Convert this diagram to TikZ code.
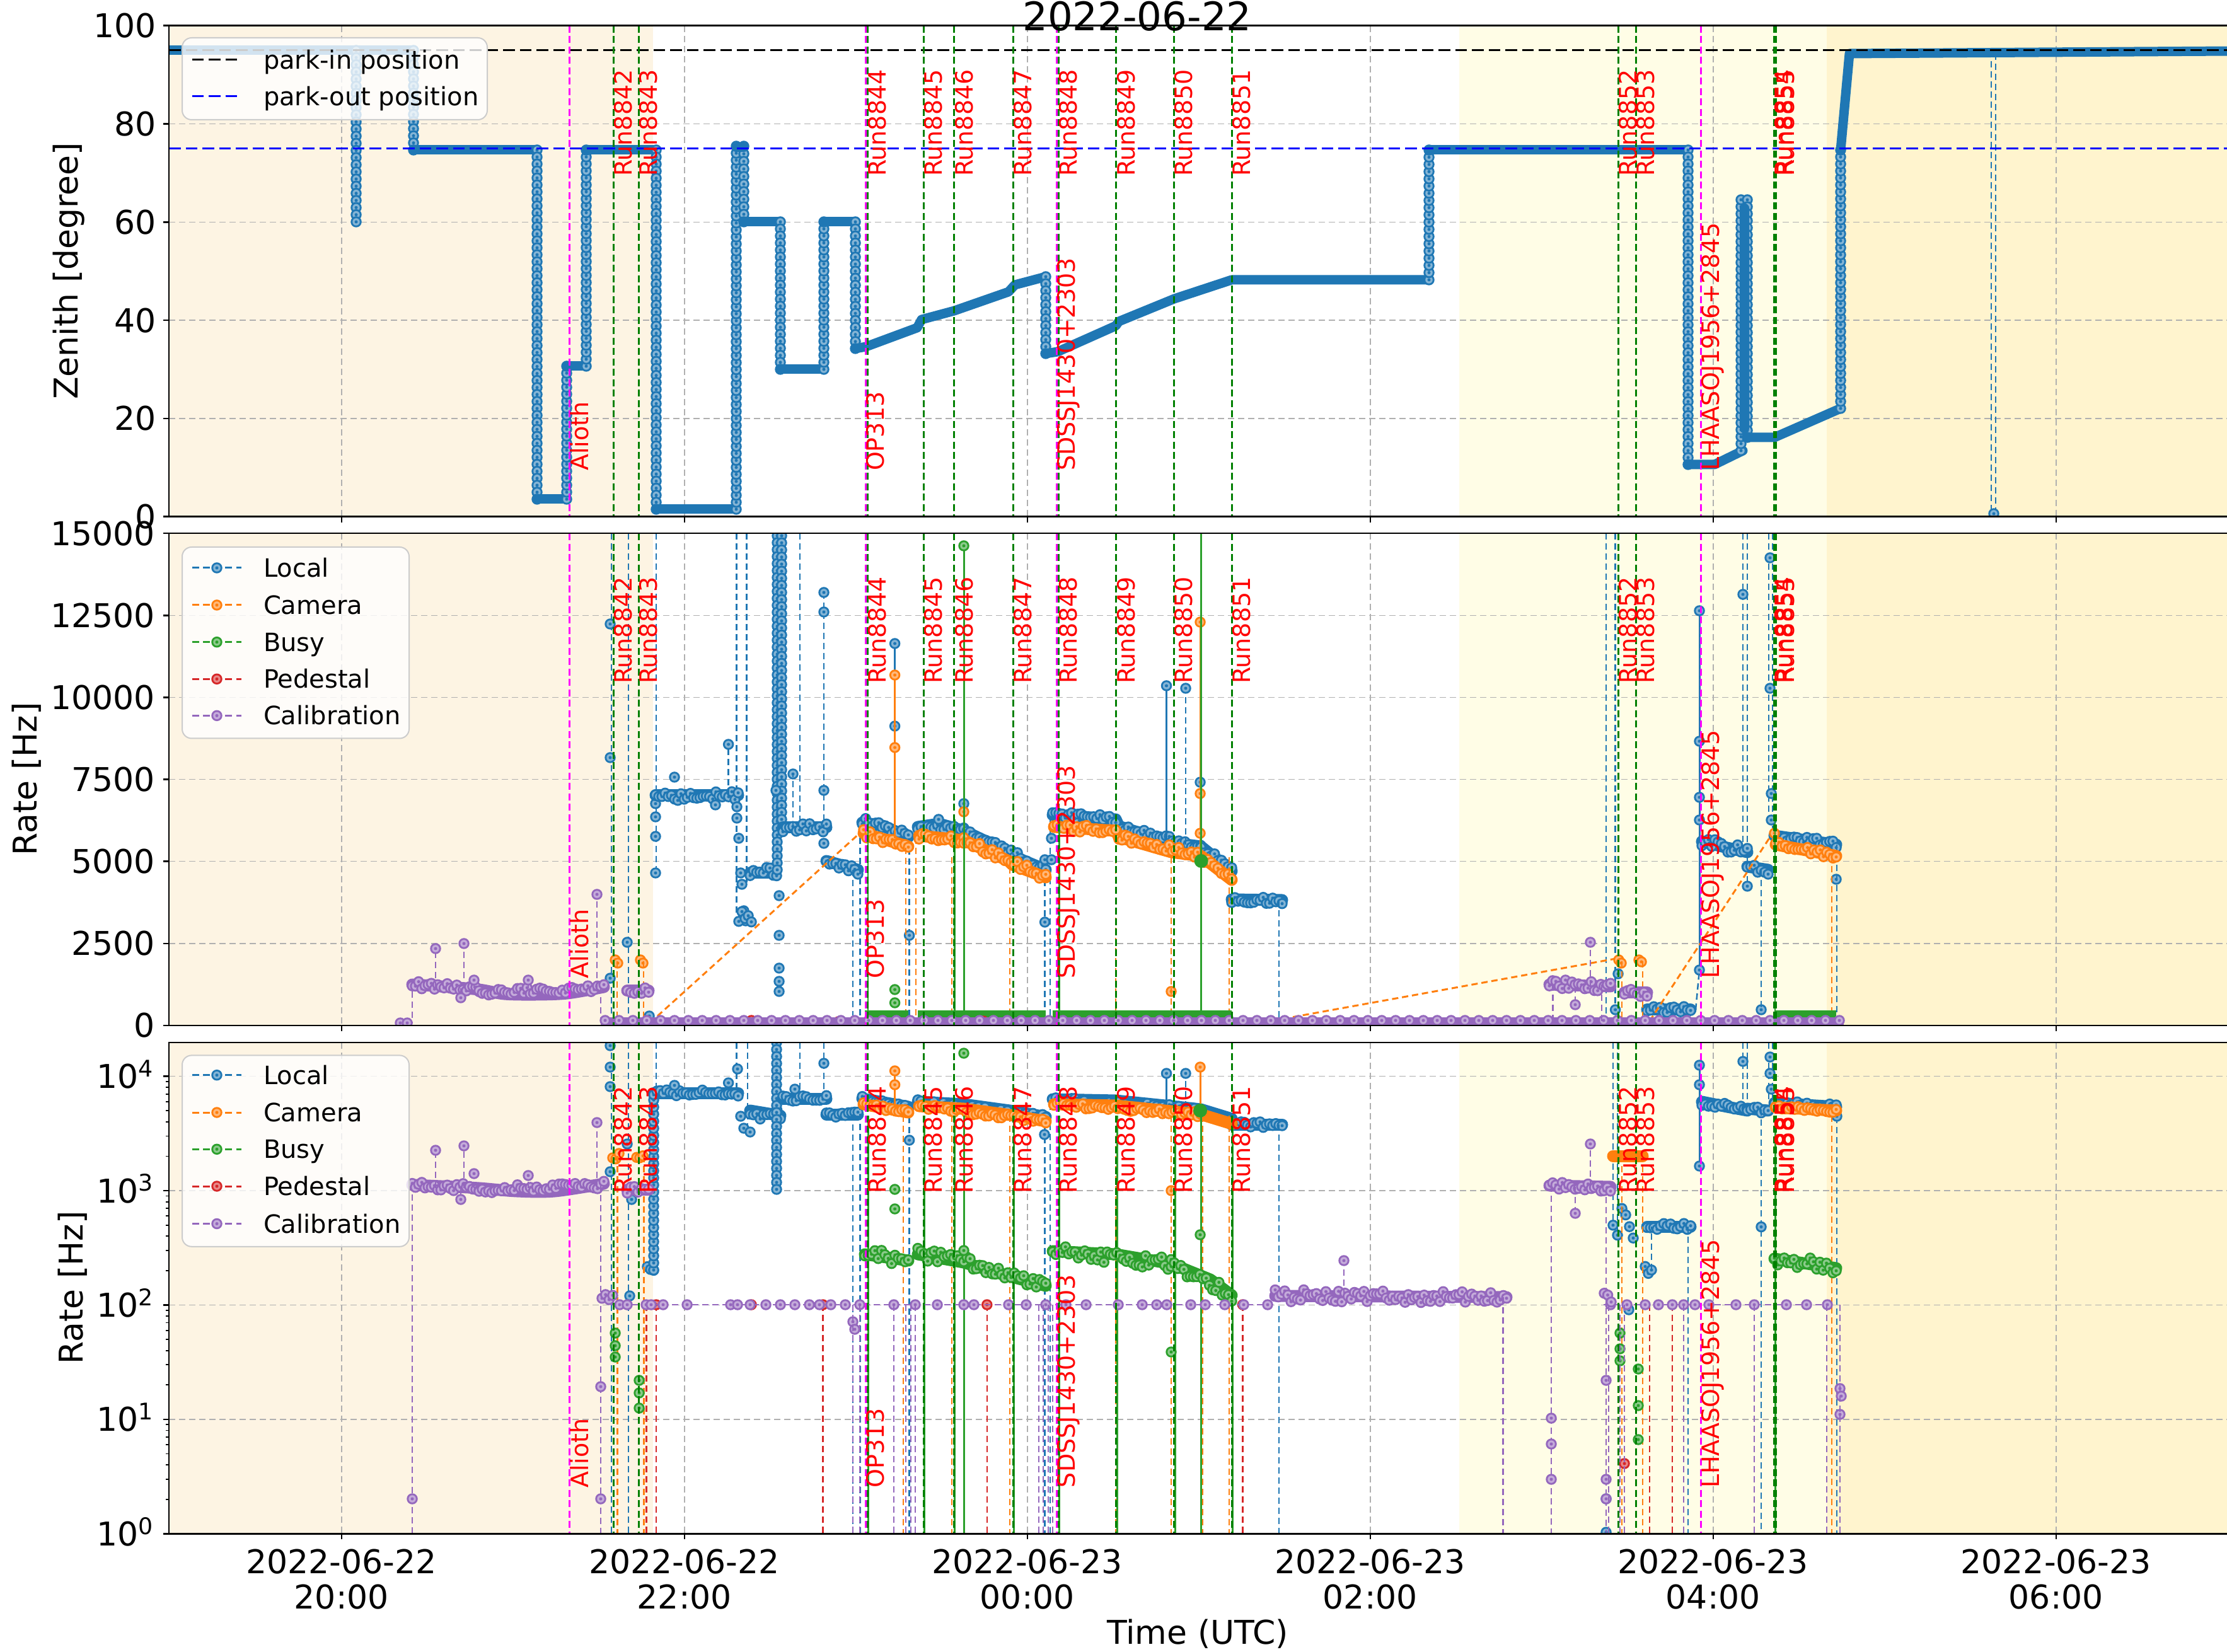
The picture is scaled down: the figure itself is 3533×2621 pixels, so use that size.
\documentclass[tikz,border=0pt]{standalone}
\usepackage{fontspec}
\setmainfont{DejaVu Sans}
\definecolor{cA}{HTML}{1F77B4}
\definecolor{cB}{HTML}{FF7F0E}
\definecolor{cC}{HTML}{2CA02C}
\definecolor{cD}{HTML}{D62728}
\definecolor{cE}{HTML}{9467BD}
\definecolor{rungreen}{HTML}{008000}
\definecolor{tgtmag}{HTML}{FF00FF}
\definecolor{gridgray}{HTML}{B0B0B0}
\definecolor{shA}{HTML}{FDF4E3}
\definecolor{shB}{HTML}{FFFDE6}
\definecolor{shC}{HTML}{FFF4CE}
\definecolor{legedge}{HTML}{CCCCCC}
\definecolor{parkblue}{HTML}{0000FF}
\newcommand{\tkfont}{\fontsize{10.4pt}{12pt}\selectfont}
\newcommand{\lgfont}{\fontsize{8pt}{9.6pt}\selectfont}
\newcommand{\lbfont}{\fontsize{7.6pt}{9pt}\selectfont}
\newcommand{\ttlfont}{\fontsize{12.5pt}{15pt}\selectfont}
\tikzset{
 spine/.style={black, line width=0.5pt},
 gridl/.style={draw=gridgray, line width=0.3pt, dash pattern=on 2pt off 1.2pt},
 runl/.style={draw=rungreen, line width=0.6pt, dash pattern=on 2.2pt off 1.1pt},
 tgtl/.style={draw=tgtmag, line width=0.6pt, dash pattern=on 2.2pt off 1.1pt},
 dd/.style={line width=0.5pt, dash pattern=on 2pt off 1.2pt},
 band/.style={line width=3pt, line cap=round, line join=round},
 rband/.style={line width=3.8pt, line cap=round, line join=round},
 lbl/.style={text=red, font=\lbfont, rotate=90, anchor=north west, inner sep=0pt},
 tlab/.style={font=\tkfont, inner sep=0pt},
 llab/.style={font=\lgfont, anchor=base west, inner sep=0pt},
}
\newcommand{\mk}[3]{\fill[#1] (#2,#3) circle[radius=1.75pt];\fill[white,opacity=0.45] (#2,#3) circle[radius=1.15pt];\fill[#1] (#2,#3) circle[radius=0.5pt];}
\newcommand{\mks}[2]{\foreach \pa/\pb in {#2}{\mk{#1}{\pa}{\pb}}}
\newcommand{\mchain}[4]{\draw[#1,dd] (#2,#3) -- (#2,#4);\pgfmathtruncatemacro{\nn}{max(1,abs((#4)-(#3))/11)}\pgfmathsetmacro{\st}{((#4)-(#3))/\nn}\foreach \ii in {0,...,\nn}{\pgfmathsetmacro{\yy}{#3+\st*\ii}\mk{#1}{#2}{\yy}}}
\newcommand{\noisy}[6]{\pgfmathtruncatemacro{\nn}{max(1,((#4)-(#2))/5)}\pgfmathsetmacro{\stx}{((#4)-(#2))/\nn}\pgfmathsetmacro{\sty}{((#5)-(#3))/\nn}\foreach \ii in {0,...,\nn}{\pgfmathsetmacro{\xx}{#2+\stx*\ii}\pgfmathsetmacro{\yy}{#3+\sty*\ii+#6*rand}\mk{#1}{\xx}{\yy}}}
\begin{document}
\begin{tikzpicture}[x=0.2pt,y=-0.2pt]
\useasboundingbox (0,0) rectangle (3533,2621);
\clip (0,0) rectangle (3533,2621);
\pgfmathsetseed{7}
% ---------- backgrounds and grids
\foreach \yt/\yb in {40.7/819.7, 846.2/1627, 1654/2433.3} {
  \fill[shA] (268,\yt) rectangle (1036,\yb);
  \fill[shB] (2315,\yt) rectangle (2898,\yb);
  \fill[shC] (2898,\yt) rectangle (3540,\yb);
  \foreach \gx in {541.8,1085.8,1629.8,2173.8,2717.8,3261.8} \draw[gridl] (\gx,\yt) -- (\gx,\yb);
}
\foreach \gy in {196.5,352.3,508.1,663.9, 976.3,1106.5,1236.6,1366.7,1496.9, 1707.7,1889.1,2070.5,2251.9} \draw[gridl] (268,\gy) -- (3540,\gy);

% ---------- TOP PANEL DATA
\begin{scope}
\clip (268,40.7) rectangle (3533,819.7);
\draw[cA,band] (262,80) -- (656,80);
\mchain{cA}{565}{80}{352}
\mchain{cA}{656}{80}{238}
\draw[cA,band] (656,238) -- (852,238);
\mchain{cA}{852}{238}{792}
\draw[cA,band] (852,792) -- (899,792);
\mchain{cA}{899}{792}{581}
\draw[cA,band] (899,581) -- (930,581);
\mchain{cA}{930}{581}{238}
\draw[cA,band] (930,238) -- (1041,238);
\mchain{cA}{1041}{238}{808}
\draw[cA,band] (1041,808) -- (1168,808);
\mchain{cA}{1168}{808}{232}
\mchain{cA}{1180}{232}{352}
\draw[cA,band] (1168,234) -- (1180,234);
\draw[cA,band] (1180,352) -- (1238,352);
\mchain{cA}{1238}{352}{586}
\draw[cA,band] (1238,586) -- (1307,586);
\mchain{cA}{1307}{586}{352}
\draw[cA,band] (1307,352) -- (1357,352);
\mchain{cA}{1357}{352}{553}
\draw[cA,band] (1357,553) -- (1374,550) -- (1455,520) -- (1462,507) -- (1514,493) -- (1600,463) -- (1610,452) -- (1659,439);
\mchain{cA}{1659}{439}{561}
\draw[cA,band] (1659,561) -- (1678,558) -- (1770,517) -- (1775,510) -- (1863,474) -- (1954,444) -- (2267,444);
\mchain{cA}{2267}{444}{238}
\draw[cA,band] (2267,238) -- (2678,238);
\mchain{cA}{2678}{238}{737}
\draw[cA,band] (2678,737) -- (2720,737) -- (2765,715);
\mchain{cA}{2762}{715}{317}
\mchain{cA}{2772}{317}{694}
\draw[cA,band] (2767,330) -- (2767,680);
\draw[cA,band] (2772,694) -- (2815,694) -- (2920,648);
\mchain{cA}{2920}{648}{238}
\draw[cA,band] (2920,238) -- (2934,85) -- (3540,81);
\draw[cA,dd] (3159,81) -- (3159,815);
\draw[cA,dd] (3166,815) -- (3166,81);
\mk{cA}{3163}{815}
\end{scope}
\draw[black, line width=0.6pt, dash pattern=on 3.7pt off 1.6pt] (268,80) -- (3540,80);
\draw[parkblue, line width=0.6pt, dash pattern=on 3.7pt off 1.6pt] (268,235.3) -- (3540,235.3);

% ---------- MIDDLE PANEL DATA
\begin{scope}
\clip (268,846.2) rectangle (3533,1627);
% Local
\foreach \vx/\ve in {970/1627, 997/1627, 1041/1385, 1168.6/1460, 1184.7/1400, 1269/1313, 2548/1627, 2562.6/1602, 2765/1340, 2772/1406, 2806/1301, 2812/1330} {\draw[cA,dd] (\vx,846) -- (\vx,\ve);}
\mks{cA}{968/990, 968/1202, 968/1552, 995/1495, 1030/1612, 1040/1385, 1040/1327, 1040/1296, 1040/1275}
\draw[cA,rband] (1040,1262) -- (1171,1262);
\noisy{cA}{1040}{1262}{1171}{1262}{8}
\mks{cA}{1070/1233, 1135/1277, 1155.6/1181}
\draw[cA,dd] (1155.6,1262) -- (1155.6,1181);
\mks{cA}{1169/1280, 1169/1298, 1172/1330, 1175/1385, 1177/1403, 1180/1445, 1183/1461}
\noisy{cA}{1172}{1452}{1192}{1452}{12}
\draw[cA,rband] (1190,1385) -- (1230,1385);
\noisy{cA}{1190}{1385}{1232}{1385}{12}
\mchain{cA}{1233}{850}{1380}
\mchain{cA}{1240}{850}{1300}
\mks{cA}{1236/1421, 1236/1484, 1236/1536, 1236/1557, 1236/1573}
\draw[cA,rband] (1242,1313) -- (1311,1313);
\noisy{cA}{1242}{1313}{1311}{1313}{7}
\mks{cA}{1258/1228, 1231/1254}
\draw[cA,dd] (1258,1313) -- (1258,1228);
\draw[cA,dd] (1307,940) -- (1307,1313);
\mks{cA}{1307/940,1307/971,1307/1254,1307/1338}
\draw[cA,rband] (1311,1366) -- (1361,1380);
\noisy{cA}{1311}{1366}{1361}{1380}{7}
\draw[cA,dd] (1353,1380) -- (1353,1627);
\draw[cA,dd] (1364.5,1627) -- (1364.5,1303);
\draw[cA,rband] (1368,1305) -- (1400,1310) -- (1441,1328);
\noisy{cA}{1368}{1303}{1441}{1326}{6}
\draw[cA,line width=0.6pt] (1419.6,1310) -- (1419.6,1021);
\mks{cA}{1419.6/1021,1419.6/1152}
\draw[cA,dd] (1442.6,1330) -- (1442.6,1627);
\mk{cA}{1442.6}{1484}
\draw[cA,rband] (1456,1312) -- (1490,1307) -- (1529,1318) -- (1600,1352) -- (1606,1358) -- (1659,1380);
\noisy{cA}{1456}{1310}{1529}{1318}{6}
\noisy{cA}{1529}{1318}{1659}{1380}{6}
\mks{cA}{1529/1275, 1489/1300}
\draw[cA,dd] (1657.6,1380) -- (1657.6,1627);
\mks{cA}{1657.6/1364, 1657.6/1463}
\draw[cA,dd] (1666,1627) -- (1666,1300);
\mks{cA}{1668/1364, 1668/1330}
\draw[cA,rband] (1670,1293) -- (1718,1296) -- (1770,1300) -- (1775,1311) -- (1858,1337) -- (1905,1343) -- (1954,1382);
\noisy{cA}{1670}{1293}{1770}{1300}{6}
\noisy{cA}{1775}{1311}{1905}{1343}{6}
\noisy{cA}{1905}{1343}{1954}{1382}{6}
\draw[cA,line width=0.6pt] (1850.5,1335) -- (1850.5,1088);
\mk{cA}{1850.5}{1088}
\draw[cA,dd] (1881,1340) -- (1881,1092);
\mk{cA}{1881}{1092}
\mk{cA}{1904}{1241}
\draw[cA,rband] (1954,1427) -- (2034,1428);
\noisy{cA}{1954}{1427}{2034}{1428}{6}
\draw[cA,dd] (2029,1428) -- (2029,1627);
\draw[cA,rband] (2613,1602) -- (2682,1602);
\noisy{cA}{2613}{1602}{2682}{1602}{5}
\draw[cA,dd] (2690,1602) -- (2696,1539);
\draw[cA,line width=0.6pt] (2696,1539) -- (2696,969);
\mks{cA}{2696/969, 2696/1176, 2696/1265, 2696/1301, 2696/1539}
\draw[cA,rband] (2700,1335) -- (2740,1345) -- (2772,1352);
\noisy{cA}{2700}{1335}{2772}{1352}{8}
\mk{cA}{2765}{943}
\draw[cA,rband] (2772,1375) -- (2805,1380);
\noisy{cA}{2772}{1375}{2805}{1380}{7}
\mks{cA}{2772/1406, 2794/1602}
\draw[cA,dd] (2794,1380) -- (2794,1602);
\mks{cA}{2808/885, 2808/1092, 2810/1259, 2810/1301, 2562.6/1602, 2567/1545}
\draw[cA,rband] (2815,1326) -- (2913,1340);
\noisy{cA}{2815}{1325}{2913}{1340}{6}
\mk{cA}{2913}{1395}
\draw[cA,dd] (2914,1340) -- (2914,1627);
% Camera
\draw[cB,dd,line width=0.6pt] (1043,1612) -- (1366,1320);
\draw[cB,dd,line width=0.6pt] (1988,1625) -- (2563,1521);
\draw[cB,dd,line width=0.6pt] (2617,1620) -- (2812,1322);
\mks{cB}{976/1523, 980/1528, 1016/1523, 1020/1528, 2568/1523, 2572/1528, 2600/1523, 2604/1526}
\foreach \vx in {979,1021,2573,2606} \draw[cB,dd] (\vx,1525) -- (\vx,1627);
\draw[cB,rband] (1370,1322) -- (1441,1343);
\noisy{cB}{1370}{1322}{1441}{1343}{6}
\draw[cB,line width=0.6pt] (1419.6,1330) -- (1419.6,1071);
\mks{cB}{1419.6/1071,1419.6/1186}
\draw[cB,dd] (1437,1345) -- (1437,1627);
\draw[cB,dd] (1453,1627) -- (1453,1322);
\draw[cB,rband] (1458,1326) -- (1529,1333) -- (1600,1366) -- (1606,1372) -- (1659,1392);
\noisy{cB}{1458}{1326}{1529}{1333}{6}
\noisy{cB}{1529}{1333}{1659}{1392}{6}
\mk{cB}{1529}{1288}
\draw[cB,rband] (1672,1312) -- (1770,1318) -- (1775,1328) -- (1858,1352) -- (1905,1358) -- (1954,1396);
\noisy{cB}{1672}{1312}{1770}{1318}{6}
\noisy{cB}{1775}{1328}{1905}{1358}{6}
\noisy{cB}{1905}{1358}{1954}{1396}{6}
\draw[cB,line width=0.6pt] (1904,1360) -- (1904,987);
\mks{cB}{1904/987, 1904/1259, 1904/1322, 1858/1573, 2815/1322}
\foreach \vx in {1510,1602,1770,1858,1950} \draw[cB,dd] (\vx,1360) -- (\vx,1627);
\draw[cB,rband] (2817,1340) -- (2913,1358);
\noisy{cB}{2817}{1340}{2913}{1358}{6}
\draw[cB,dd] (2906,1358) -- (2906,1627);
% Busy
\foreach \xa/\xb in {1372/1441, 1456/1659, 1670/1954, 2815/2913} {\draw[cC,line width=2.4pt] (\xa,1609) -- (\xb,1609);}
\draw[cC,line width=0.6pt] (1529,1627) -- (1529,866);
\mk{cC}{1529}{866}
\draw[cC,line width=0.6pt] (1905.6,1627) -- (1905.6,846);
\fill[cC] (1905.6,1366) circle[radius=2.2pt];
\mks{cC}{1419.6/1570,1419.6/1591}
\foreach \vx in {1377,1514.5,1680.5,2816} \draw[cC,line width=0.5pt] (\vx,1300) -- (\vx,1627);
% Pedestal
\mks{cD}{1192/1619,1330/1621,1560/1620,1973/1621,2612/1621}
% Calibration
\draw[cE,dd] (630,1623) -- (654,1623) -- (654,1565);
\mks{cE}{635/1623,646/1623}
\draw[cE,rband] plot[smooth] coordinates {(654,1562) (700,1565) (760,1570) (800,1577) (850,1578) (900,1576) (958,1566)};
\noisy{cE}{654}{1562}{760}{1570}{6}
\noisy{cE}{760}{1575}{958}{1568}{6}
\foreach \pa/\pb in {691/1505,736/1497,752/1555,838/1555,731/1583,947/1419}{\draw[cE,dd] (\pa,1568) -- (\pa,\pb); \mk{cE}{\pa}{\pb}}
\draw[cE,dd] (953,1566) -- (953,1621);
\draw[cE,line width=2.6pt] (953,1621) -- (2925,1621);
\foreach \xx in {960,982,...,2920}{\mk{cE}{\xx}{1619}}
\draw[cE,rband] (995,1572) -- (1029,1572);
\noisy{cE}{995}{1572}{1029}{1572}{6}
\draw[cE,rband] (2458,1562) -- (2555,1565);
\noisy{cE}{2458}{1560}{2555}{1566}{8}
\draw[cE,dd] (2523,1565) -- (2523,1495); \mk{cE}{2523}{1495}
\draw[cE,dd] (2499,1565) -- (2499,1594); \mk{cE}{2499}{1594}
\draw[cE,dd] (2463.6,1562) -- (2463.6,1621);
\draw[cE,dd] (2541,1562) -- (2541,1621);
\draw[cE,rband] (2577,1575) -- (2613,1575);
\noisy{cE}{2577}{1575}{2613}{1575}{6}
\end{scope}

% ---------- BOTTOM PANEL DATA
\begin{scope}
\clip (268,1654) rectangle (3533,2433.3);
% Local
\foreach \vx/\ve in {970/2433, 997/2433, 1041/2015, 1168.6/1734, 1186/1796, 1269/1743, 1307/1743, 2559/1940, 2566/1965, 2765/1750, 2772/1762, 2806/1750, 2812/1750} {\draw[cA,dd] (\vx,1654) -- (\vx,\ve);}
\mks{cA}{968/1659, 968/1693, 968/1724, 968/1859, 995/1815, 1002/1903, 999/2056}
\noisy{cA}{1027}{2012}{1037}{2018}{6}
\mchain{cA}{1037}{2015}{1734}
\draw[cA,rband] (1037,1734) -- (1171,1734);
\noisy{cA}{1037}{1734}{1171}{1734}{5}
\mks{cA}{1070/1722, 1155.6/1718, 1170/1696, 1175/1771, 1180/1790, 1190/1796}
\draw[cA,rband] (1190,1762) -- (1238,1770);
\noisy{cA}{1190}{1762}{1238}{1770}{12}
\mchain{cA}{1232}{1654}{1887}
\draw[cA,rband] (1242,1743) -- (1311,1743);
\noisy{cA}{1242}{1743}{1311}{1743}{5}
\mks{cA}{1261/1728, 1307/1687}
\draw[cA,rband] (1311,1768) -- (1361,1768);
\noisy{cA}{1311}{1768}{1361}{1768}{5}
\draw[cA,dd] (1353,1768) -- (1353,2433);
\draw[cA,dd] (1364.5,2433) -- (1364.5,1743);
\draw[cA,rband] (1368,1743) -- (1441,1756);
\noisy{cA}{1368}{1743}{1441}{1756}{4}
\draw[cA,dd] (1442.6,1756) -- (1442.6,2433);
\mk{cA}{1442.6}{1809}
\draw[cA,rband] (1456,1748) -- (1529,1752) -- (1602,1762) -- (1659,1772);
\noisy{cA}{1456}{1748}{1659}{1772}{4}
\draw[cA,dd] (1657.6,1772) -- (1657.6,2433);
\mk{cA}{1657}{1800}
\draw[cA,dd] (1666,2433) -- (1666,1744);
\draw[cA,rband] (1670,1744) -- (1770,1746) -- (1858,1755) -- (1905,1760) -- (1954,1775);
\noisy{cA}{1670}{1744}{1905}{1760}{4}
\draw[cA,rband] (1954,1784) -- (2034,1784);
\noisy{cA}{1954}{1784}{2034}{1784}{5}
\draw[cA,line width=0.6pt] (1850.5,1755) -- (1850.5,1703);
\mk{cA}{1850.5}{1703}
\draw[cA,dd] (1881,1757) -- (1881,1703);
\mk{cA}{1881}{1703}
\draw[cA,dd] (2029,1784) -- (2029,2433);
\mks{cA}{2548/2378, 2548/2431, 2584/2078}
\noisy{cA}{2559}{1940}{2566}{1965}{6}
\noisy{cA}{2573}{1925}{2591}{1955}{12}
\noisy{cA}{2610}{2012}{2620}{2018}{6}
\draw[cA,rband] (2613,1946) -- (2682,1946);
\noisy{cA}{2613}{1946}{2682}{1946}{5}
\draw[cA,dd] (2620,2015) -- (2620,1946);
\draw[cA,dd] (2678,1946) -- (2678,2433);
\draw[cA,line width=0.6pt] (2696,1850) -- (2696,1690);
\mks{cA}{2696/1850, 2696/1690, 2696/1721}
\draw[cA,rband] (2700,1748) -- (2740,1756) -- (2772,1762);
\noisy{cA}{2700}{1748}{2772}{1762}{6}
\mk{cA}{2765}{1684}
\draw[cA,rband] (2772,1759) -- (2805,1762);
\noisy{cA}{2772}{1759}{2805}{1762}{5}
\draw[cA,dd] (2794,1760) -- (2794,2433);
\mks{cA}{2794/1946.5, 2808/1677, 2808/1703, 2810/1728}
\draw[cA,rband] (2815,1750) -- (2913,1756);
\noisy{cA}{2815}{1750}{2913}{1756}{4}
\draw[cA,dd] (2914,1756) -- (2914,2433);
\mk{cA}{2914}{1771}
% Camera
\noisy{cB}{972}{1834}{982}{1834}{5}
\noisy{cB}{1010}{1834}{1020}{1834}{5}
\draw[cB,dd] (979.6,1834) -- (979.6,2433);
\draw[cB,dd] (1021.7,1834) -- (1021.7,2433);
\draw[cB,rband] (1370,1752) -- (1441,1765);
\noisy{cB}{1370}{1752}{1441}{1765}{4}
\draw[cB,line width=0.6pt] (1419.6,1755) -- (1419.6,1699);
\mks{cB}{1419.6/1699,1419.6/1721}
\draw[cB,rband] (1458,1755) -- (1529,1759) -- (1602,1769) -- (1659,1779);
\noisy{cB}{1458}{1755}{1659}{1779}{4}
\draw[cB,rband] (1672,1752) -- (1770,1754) -- (1858,1763) -- (1905,1768) -- (1954,1783);
\noisy{cB}{1672}{1752}{1905}{1768}{4}
\draw[cB,line width=0.6pt] (1904,1768) -- (1904,1693);
\mks{cB}{1904/1693, 1858/1889}
\foreach \vx in {1433,1510,1602,1770,1858,1908,1950,2906} \draw[cB,dd] (\vx,1770) -- (\vx,2433);
\draw[cB,rband] (2559,1834) -- (2606,1834);
\foreach \vx in {2573,2606} \draw[cB,dd] (\vx,1834) -- (\vx,2433);
\draw[cB,rband] (2817,1757) -- (2913,1762);
\noisy{cB}{2817}{1757}{2913}{1762}{4}
% Busy
\foreach \vx in {1377,1466.5,1514.5,1529,1608,1680.5,1772,1864,1905,1955.5,2816} \draw[cC,line width=0.6pt] (\vx,1770) -- (\vx,2433);
\draw[cC,rband] (1372,1990) -- (1441,2000);
\noisy{cC}{1372}{1990}{1441}{2000}{10}
\draw[cC,rband] (1456,1990) -- (1529,2003) -- (1602,2025) -- (1659,2040);
\noisy{cC}{1456}{1990}{1529}{2003}{10}
\noisy{cC}{1529}{2003}{1659}{2040}{10}
\draw[cC,rband] (1670,1985) -- (1770,1990) -- (1858,2005) -- (1920,2030) -- (1954,2055);
\noisy{cC}{1670}{1985}{1858}{2005}{10}
\noisy{cC}{1858}{2005}{1954}{2055}{10}
\draw[cC,rband] (2815,1997) -- (2913,2012);
\noisy{cC}{2815}{1997}{2913}{2012}{10}
\mks{cC}{1419.6/1887,1419.6/1918,1529/1671,1529/1984,1904/1959,1858/2145,976/2115,976/2135,976/2153,1014/2190,1014/2210,1014/2234,2570/2115,2570/2140,2570/2159,2599/2172,2599/2230,2599/2284}
\fill[cC] (1904,1762) circle[radius=2.2pt];
% Pedestal
\foreach \vx in {1025.5,1041,1305.6,1565.8,1971.4,2577,2617,2653} \draw[cD,dd] (\vx,2070) -- (\vx,2433);
\mks{cD}{1305.6/2070,1565.8/2070,1971.4/2070,1192/2070,2577/2322,1041/2070}
% Calibration
\draw[cE,dd] (654,2433) -- (654,1881);
\mk{cE}{654}{2378}
\draw[cE,rband] plot[smooth] coordinates {(654,1880) (700,1882) (760,1885) (820,1890) (880,1890) (958,1878)};
\noisy{cE}{654}{1880}{760}{1885}{6}
\noisy{cE}{760}{1888}{958}{1880}{6}
\foreach \pa/\pb in {691/1825,736/1818,752/1862,838/1865,731/1903,947/1781}{\draw[cE,dd] (\pa,1885) -- (\pa,\pb); \mk{cE}{\pa}{\pb}}
\draw[cE,dd] (953,1880) -- (953,2433);
\mks{cE}{953/2200,953/2378}
\draw[cE,rband] (995,1887) -- (1029,1887);
\noisy{cE}{995}{1887}{1029}{1887}{6}
\noisy{cE}{955}{2056}{972}{2060}{5}
\draw[cE,dd] (970,2070) -- (2022,2070);
\foreach \xx in {983,995,1025,1033,1052,1090,1159,1170,1190,1215,1238,1261,1284,1300,1318,1341,1364,1418,1452,1487,1529,1545,1600,1628,1659,1691,1723,1774,1812,1835,1851,1889,1912,1943,1973,2011} {\mk{cE}{\xx}{2070}}
\draw[cE,rband] (2023,2056) -- (2390,2058);
\noisy{cE}{2023}{2056}{2390}{2058}{10}
\draw[cE,dd] (2132,2056) -- (2132,2000);
\mk{cE}{2132}{2000}
\draw[cE,dd] (2384.7,2058) -- (2384.7,2433);
\draw[cE,rband] (2458,1881) -- (2555,1883);
\noisy{cE}{2458}{1881}{2555}{1883}{7}
\draw[cE,dd] (2523,1883) -- (2523,1815); \mk{cE}{2523}{1815}
\draw[cE,dd] (2499,1883) -- (2499,1925); \mk{cE}{2499}{1925}
\draw[cE,dd] (2461,1881) -- (2461,2433);
\mks{cE}{2461/2250,2461/2291,2461/2347}
\draw[cE,dd] (2548,1883) -- (2548,2433);
\draw[cE,dd] (2544,2070) -- (2906,2070);
\foreach \xx in {2555,2581,2610,2631,2653,2671,2689,2711,2754,2783,2834,2866,2899} {\mk{cE}{\xx}{2070}}
\noisy{cE}{2545}{2046}{2556}{2060}{6}
\mks{cE}{2548/2190,2548/2347,2548/2378,2919/2203,2919/2244,2921/2215,1353/2097,1356/2109}
\foreach \vx in {1353,1364,1418,1437,1445,1452,1648,1655,1663,1670,2552,2570,2577,2671,2783,2898,2919} \draw[cE,dd] (\vx,2070) -- (\vx,2433);
\end{scope}

% ---------- run and target lines with labels
\foreach \yt/\yb/\lr/\lt in {40.7/819.7/281/748, 846.2/1627/1086/1553, 1654/2433.3/1894/2361} {
  \foreach \rx in {973.5,1013.3,1376,1465.6,1513.8,1607.1,1679.5,1770.9,1862.7,1954.6,2567.6,2595.1,2814,2817} \draw[runl] (\rx,\yt) -- (\rx,\yb);
  \foreach \tx in {903.8,1373,1676.5,2698.4} \draw[tgtl] (\tx,\yt) -- (\tx,\yb);
  \foreach \rx/\rn in {973.5/Run8842,1013.3/Run8843,1376/Run8844,1465.6/Run8845,1513.8/Run8846,1607.1/Run8847,1679.5/Run8848,1770.9/Run8849,1862.7/Run8850,1954.6/Run8851,2567.6/Run8852,2595.1/Run8853,2814/Run8854,2817/Run8855} \node[lbl] at (\rx,\lr) {\rn};
  \foreach \tx/\tn in {903.8/Alioth,1373/OP313,1676.5/SDSSJ1430+2303,2698.4/LHAASOJ1956+2845} \node[lbl] at (\tx,\lt) {\tn};
}

% ---------- legends
\draw[legedge, line width=0.4pt, fill=white, fill opacity=0.8, rounded corners=3pt] (289,60) rectangle (773,190);
\draw[black, line width=0.6pt, dash pattern=on 3.7pt off 1.6pt] (304.6,94.9) -- (382.6,94.9);
\draw[parkblue, line width=0.6pt, dash pattern=on 3.7pt off 1.6pt] (304.6,152.9) -- (382.6,152.9);
\node[llab] at (417,109.4) {park-in position};
\node[llab] at (417,167.4) {park-out position};
\draw[legedge, line width=0.4pt, fill=white, fill opacity=0.8, rounded corners=3pt] (289,868) rectangle (649,1171.5);
\draw[legedge, line width=0.4pt, fill=white, fill opacity=0.8, rounded corners=3pt] (289,1674.4) rectangle (649,1977.8);
\foreach \ey/\ec/\et in {901/cA/Local, 960/cB/Camera, 1018.7/cC/Busy, 1077.3/cD/Pedestal, 1135.4/cE/Calibration, 1705.7/cA/Local, 1765/cB/Camera, 1823.3/cC/Busy, 1882/cD/Pedestal, 1941.5/cE/Calibration} {
  \draw[\ec, line width=0.6pt, dash pattern=on 2.2pt off 1.3pt] (304.6,\ey) -- (382.6,\ey);
  \mk{\ec}{344}{\ey}
  \node[llab] at (417,{\ey+14.5}) {\et};
}

% ---------- spines and ticks
\foreach \yt/\yb in {40.7/819.7, 846.2/1627, 1654/2433.3} {
  \draw[spine] (3540,\yt) -- (268,\yt) -- (268,\yb) -- (3540,\yb);
  \foreach \gx in {541.8,1085.8,1629.8,2173.8,2717.8,3261.8} \draw[spine] (\gx,\yb) -- (\gx,{\yb+9});
}
\foreach \ty/\tv in {40.7/100, 196.5/80, 352.3/60, 508.1/40, 663.9/20, 819.7/0} {
  \draw[spine] (259,\ty) -- (268,\ty);
  \node[tlab, anchor=base east] at (249,{\ty+19}) {\tv};
}
\foreach \ty/\tv in {846.2/15000, 976.3/12500, 1106.5/10000, 1236.6/7500, 1366.7/5000, 1496.9/2500, 1627/0} {
  \draw[spine] (259,\ty) -- (268,\ty);
  \node[tlab, anchor=base east] at (247,{\ty+19}) {\tv};
}
\foreach \ty/\tv in {1707.7/4, 1889.1/3, 2070.5/2, 2251.9/1, 2433.3/0} {
  \draw[spine] (259,\ty) -- (268,\ty);
  \node[tlab, anchor=base east] at (246,{\ty+19}) {10\textsuperscript{\tv}};
}
\foreach \k in {0,...,3} {
  \foreach \m in {2,...,9} {
    \pgfmathsetmacro{\yy}{2433.3-181.4*(\k+log10(\m))}
    \draw[black, line width=0.35pt] (263,\yy) -- (268,\yy);
  }
}
% x tick labels
\foreach \gx/\da/\tm in {541.8/2022-06-22/20:00, 1085.8/2022-06-22/22:00, 1629.8/2022-06-23/00:00, 2173.8/2022-06-23/02:00, 2717.8/2022-06-23/04:00, 3261.8/2022-06-23/06:00} {
  \node[tlab, anchor=base] at (\gx,2496) {\da};
  \node[tlab, anchor=base] at (\gx,2552) {\tm};
}
% axis labels and title
\node[tlab, rotate=90] at (109,430) {Zenith [degree]};
\node[tlab, rotate=90] at (42,1236) {Rate [Hz]};
\node[tlab, rotate=90] at (115,2043) {Rate [Hz]};
\node[tlab, anchor=base] at (1900,2608) {Time (UTC)};
\node[font=\ttlfont, inner sep=0pt, anchor=base] at (1804,49) {2022-06-22};
\end{tikzpicture}
\end{document}
